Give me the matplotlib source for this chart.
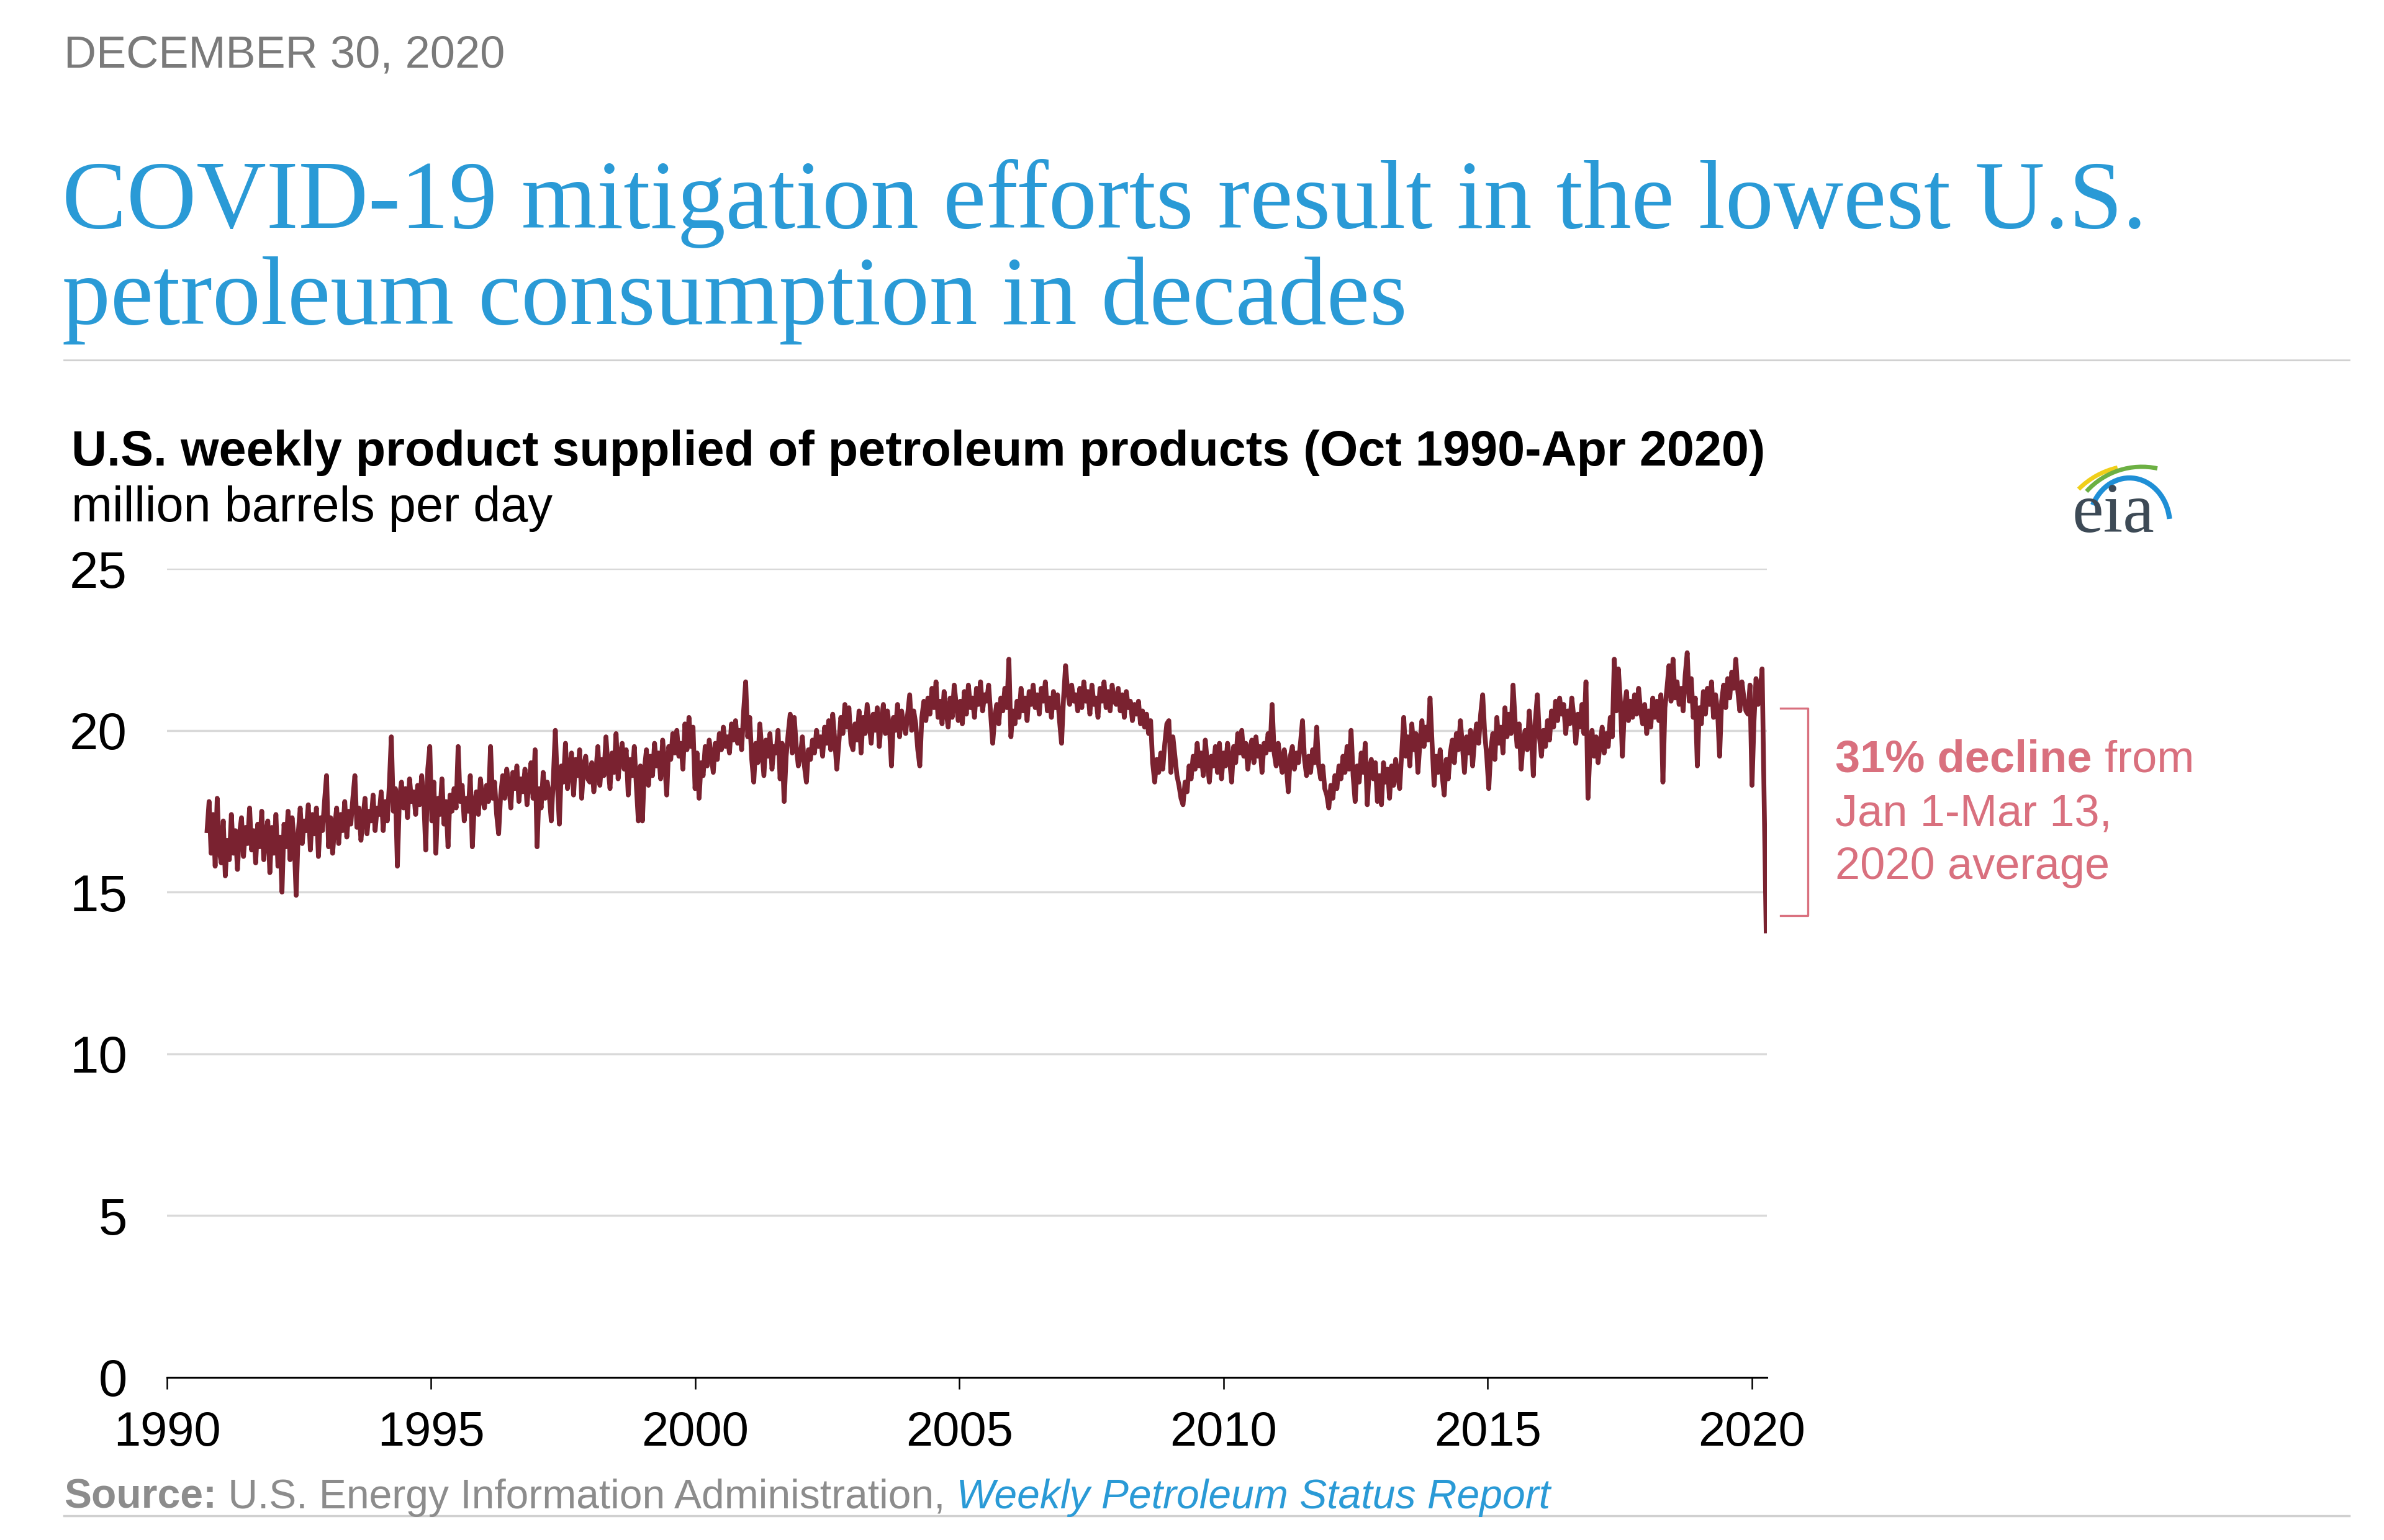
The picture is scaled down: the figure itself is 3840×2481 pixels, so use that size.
import numpy as np
import pandas as pd
import matplotlib
matplotlib.use('Agg')
import matplotlib.pyplot as plt
from matplotlib.transforms import IdentityTransform, blended_transform_factory
from matplotlib.lines import Line2D
from matplotlib.patches import Arc

# U.S. product supplied of petroleum products, million b/d
# (roughly every second week, last point = Apr 10, 2020)
supplied_1990s = [
    16.9, 17.8, 16.2, 17.4, 15.8, 17.9, 16.3,
    15.9, 17.2, 15.5, 16.6, 16.0, 17.4, 16.2, 16.9, 15.7, 16.8, 17.3, 16.1, 17.0,
    16.5, 17.6, 16.3, 16.9, 15.9, 17.1, 16.4, 17.5, 16.0, 16.8, 17.2, 15.6, 17.0,
    16.2, 17.4, 15.8, 16.7, 15.0, 17.1, 16.4, 17.5, 16.0, 17.3, 16.6, 14.9, 16.8,
    17.6, 16.5, 17.2, 16.9, 17.7, 16.3, 17.4, 16.8, 17.6, 16.1, 17.3, 16.9, 17.8,
    18.6, 16.4, 17.3, 16.2, 17.0, 17.6, 16.5, 17.4, 16.9, 17.8, 16.7, 17.5, 17.1,
    17.9, 18.6, 17.0, 17.6, 16.6, 17.3, 17.9, 16.8, 17.5, 17.2, 18.0, 16.9, 17.6,
    17.4, 18.1, 16.9, 17.8, 17.2, 18.3, 19.8, 17.5, 18.2, 15.8, 17.9, 18.4, 17.6,
    18.2, 17.3, 18.5, 17.8, 18.1, 17.4, 18.3, 17.7, 18.6, 17.9, 16.3, 18.8, 19.5,
    17.2, 18.4, 16.2, 17.9, 17.4, 18.5, 17.1, 17.8, 16.4, 18.0, 17.5, 18.2, 17.6,
    19.5, 17.8, 18.3, 17.2, 17.9, 17.5, 18.6, 16.4, 17.7, 18.1, 17.4, 18.5, 17.9,
    17.6, 18.3, 17.8, 19.5, 17.9, 18.4, 17.4, 16.8, 18.0, 18.6, 17.9, 18.8, 18.3,
    17.6, 18.7, 18.2, 18.9, 17.8, 18.5, 18.1, 18.8, 17.7, 18.4, 19.0, 17.9, 19.4,
    16.4, 18.2, 17.6, 18.7, 17.9, 18.4, 18.0, 17.2, 18.5, 20.0, 18.3, 17.1, 18.9,
    18.4, 19.6, 18.2, 18.8, 19.3, 18.0, 19.1, 18.6, 19.4, 17.9, 18.9, 19.2, 18.5,
    18.4, 19.0, 18.1, 18.7, 19.5, 18.3, 19.1, 18.6, 19.8, 18.9, 18.2, 19.3, 18.7,
    19.9, 18.5, 19.2, 19.6, 18.8, 19.4, 18.0, 19.1, 18.6, 19.5, 18.3, 17.2, 18.9,
    17.2, 18.8, 19.4, 18.3, 19.2, 18.6, 19.6, 18.9, 19.3, 18.5, 19.7, 19.0, 18.0,
    19.5, 19.1, 19.9, 19.3, 20.0, 19.2, 19.6, 18.8, 20.2, 19.4, 20.4, 19.5, 20.1,
]
supplied_2000s = [
    18.2, 19.3, 17.9, 19.0, 18.6, 19.5, 18.9, 19.7, 19.2, 18.7, 19.6, 19.1, 19.9,
    19.4, 20.1, 19.5, 19.8, 19.3, 20.2, 19.7, 20.3, 19.6, 20.0, 19.4, 20.6, 21.5,
    19.8, 20.4, 19.1, 18.4, 19.6, 19.0, 20.2, 19.4, 18.6, 19.7, 19.2, 19.9, 18.8,
    19.5, 19.3, 20.0, 18.5, 19.6, 17.8, 19.2, 19.9, 20.5, 19.3, 20.4, 19.5, 18.9,
    19.2, 19.8, 18.9, 18.4, 19.4, 19.1, 19.7, 19.3, 20.0, 19.5, 19.8, 19.2, 20.1,
    19.6, 20.3, 19.4, 20.5, 19.7, 18.8, 19.6, 20.4, 19.9, 20.8, 20.1, 20.7, 19.6,
    19.4, 20.2, 19.7, 20.6, 19.3, 20.4, 19.9, 20.8, 20.2, 19.6, 20.5, 20.0, 20.7,
    19.5, 20.3, 20.8, 19.9, 20.6, 20.1, 18.9, 20.4, 20.0, 20.8, 19.8, 20.6, 20.2,
    19.9, 20.5, 21.1, 20.0, 20.6, 20.2, 19.4, 18.9, 20.4, 20.9, 20.3, 21.0, 20.5,
    21.3, 20.7, 21.5, 20.4, 20.9, 20.2, 21.2, 20.6, 20.1, 21.0, 20.4, 21.4, 20.8,
    20.3, 20.9, 20.2, 21.2, 20.5, 21.4, 20.7, 21.0, 20.4, 21.3, 20.8, 21.5, 20.6,
    21.1, 20.9, 21.4, 20.5, 19.6, 20.4, 20.8, 20.2, 21.0, 20.6, 21.3, 20.7, 22.2,
    19.8, 20.6, 20.2, 20.9, 20.4, 21.3, 20.6, 21.0, 20.3, 21.2, 20.8, 21.4, 20.7,
    21.1, 20.5, 21.3, 20.9, 21.5, 20.6, 21.0, 20.4, 21.2, 20.7, 21.1, 20.3, 19.6,
    21.0, 22.0, 21.2, 20.8, 21.4, 20.9, 21.1, 20.6, 21.3, 20.7, 21.5, 20.9, 21.2,
    20.5, 21.4, 20.8, 21.0, 20.4, 21.3, 20.9, 21.5, 20.7, 21.2, 20.6, 21.4, 20.9,
    20.8, 21.3, 20.6, 21.1, 20.4, 21.2, 20.7, 20.9, 20.3, 20.8, 20.5, 20.9, 20.2,
    20.6, 20.1, 20.5, 19.9, 20.3, 19.0, 18.4, 19.1, 18.7, 19.3, 18.8, 19.6, 20.2,
    20.3, 18.7, 19.8, 19.2, 18.6, 18.3, 17.9, 17.7, 18.4, 18.1, 18.9, 18.5, 19.2,
    18.8, 19.6, 18.9, 19.3, 18.6, 19.7, 19.0, 18.4, 19.2, 18.9, 19.5, 18.7, 19.6,
]
supplied_2010s = [
    18.5, 19.3, 18.9, 19.6, 19.1, 18.4, 19.5, 19.0, 19.9, 19.3, 20.0, 19.2, 19.6,
    18.8, 19.4, 19.7, 19.0, 19.8, 19.2, 19.5, 18.7, 19.6, 19.3, 19.9, 19.4, 20.8,
    19.3, 18.9, 19.6, 19.1, 18.7, 19.4, 18.9, 18.1, 19.2, 19.5, 18.8, 19.3, 19.0,
    19.6, 20.3, 19.1, 18.6, 19.2, 18.7, 19.4, 19.0, 20.1, 18.9, 18.5, 18.9, 18.2,
    18.0, 17.6, 18.3, 17.9, 18.6, 18.2, 18.9, 18.5, 19.2, 18.7, 19.5, 18.8, 20.0,
    18.6, 17.8, 18.9, 18.4, 19.3, 18.7, 19.6, 17.7, 18.8, 19.1, 18.5, 19.0, 17.8,
    18.6, 17.7, 19.0, 18.4, 18.8, 17.9, 18.9, 18.3, 19.1, 18.6, 18.2, 19.3, 20.4,
    19.2, 19.8, 18.9, 20.2, 19.4, 19.9, 18.7, 19.6, 20.3, 19.5, 20.1, 19.7, 21.0,
    19.6, 18.3, 19.2, 18.7, 19.4, 18.6, 18.0, 19.1, 18.5, 19.3, 19.7, 19.0, 19.9,
    19.4, 20.3, 19.5, 18.7, 19.8, 19.3, 20.0, 18.9, 19.7, 20.2, 19.6, 20.5, 21.1,
    19.9, 19.2, 18.2, 19.4, 19.9, 19.1, 20.4, 19.6, 20.1, 19.3, 20.7, 19.8, 20.5,
    19.9, 21.4, 20.3, 19.5, 20.2, 18.8, 19.7, 20.0, 19.4, 20.6, 19.8, 18.6, 20.3,
    21.1, 19.8, 19.2, 20.0, 19.5, 20.3, 19.7, 20.6, 20.1, 20.9, 20.3, 21.0, 20.5,
    20.8, 19.9, 20.6, 20.2, 21.0, 20.4, 19.6, 20.5, 20.1, 20.8, 19.9, 21.5, 17.9,
    19.4, 20.0, 19.2, 19.8, 19.0, 19.6, 20.1, 19.3, 19.9, 19.5, 20.4, 19.8, 22.2,
    20.6, 21.9, 20.9, 19.2, 20.7, 21.2, 20.3, 20.9, 20.4, 21.1, 20.5, 21.3, 20.6,
    20.2, 20.8, 19.9, 20.6, 20.1, 21.0, 20.4, 20.9, 20.3, 21.1, 18.4, 20.7, 21.3,
    22.0, 20.9, 22.2, 21.0, 21.5, 20.8, 21.3, 20.6, 21.7, 22.4, 20.9, 21.6, 20.4,
    21.0, 18.9, 20.7, 20.2, 21.2, 20.5, 21.3, 20.8, 21.5, 20.4, 21.1, 20.6, 19.2,
    20.9, 21.4, 20.7, 21.6, 21.0, 21.8, 21.3, 22.2, 21.2, 20.6, 21.5, 21.0, 20.6,
]
supplied_2020 = [20.5, 21.4, 18.3, 20.3, 21.6, 20.8, 21.2, 21.9, 17.9, 13.8]

supplied = supplied_1990s + supplied_2000s + supplied_2010s + supplied_2020
dates = pd.date_range(end='2020-04-10', periods=len(supplied), freq='14D')

year_ticks = [1990, 1995, 2000, 2005, 2010, 2015, 2020]
y_ticks = [0, 5, 10, 15, 20, 25]

W, H = 3840, 2481
plt.rcParams['font.family'] = ['Liberation Sans', 'DejaVu Sans']
fig = plt.figure(figsize=(W / 100, H / 100), dpi=100)
fig.patch.set_facecolor('white')
px = IdentityTransform()
rend = fig.canvas.get_renderer()


def P(x, y):
    # pixel position measured from the top-left corner
    return x, H - y


def put(x, y, s, **kw):
    return fig.text(*P(x, y), s, transform=px, va='baseline', **kw)


def run(x, y, parts, size):
    for s, kw in parts:
        t = put(x, y, s, fontsize=size, **kw)
        x = t.get_window_extent(renderer=rend).x1


ax = fig.add_axes([269 / W, 1 - 2219 / H, (2846 - 269) / W, (2219 - 916) / H])
ax.plot(dates, supplied, color='#7a2230', lw=5.5)
ax.set_ylim(0, 25)
ax.set_xlim(pd.Timestamp('1990-01-01'), pd.Timestamp('2020-04-15'))
ax.set_yticks(y_ticks)
ax.set_xticks([pd.Timestamp(f'{y}-01-01') for y in year_ticks])
ax.set_xticklabels([str(y) for y in year_ticks])
ax.grid(axis='y', color='#d9d9d9', lw=2.5)
ax.set_axisbelow(True)
for s in ['top', 'right', 'left']:
    ax.spines[s].set_visible(False)
ax.spines['bottom'].set_linewidth(2.2)
ax.tick_params(axis='x', length=14, width=1.8, pad=24, labelsize=56)
ax.tick_params(axis='y', length=0, pad=46, labelsize=60)

# bracket: Jan 1 - Mar 13 2020 average down to the April low
jan_mar = [v for d, v in zip(dates, supplied) if pd.Timestamp('2020-01-01') <= d <= pd.Timestamp('2020-03-13')]
avg = np.mean(jan_mar)
low = avg * (1 - 0.31)
pink = '#d9707e'
tr = blended_transform_factory(ax.transAxes, ax.transData)
ax.plot([1.0085, 1.0256, 1.0256, 1.0085], [avg, avg, low, low], color=pink, lw=2.4,
        transform=tr, clip_on=False)

# header
put(103, 108, 'DECEMBER 30, 2020', fontsize=52, color='#7a7a7a')
title_1 = 'COVID-19 mitigation efforts result in the lowest U.S.'
t1 = put(100, 367, title_1, fontsize=100, color='#2a9ad6', family='Liberation Serif')
tsize = 100 * (3458 - 100) / t1.get_window_extent(renderer=rend).width
t1.set_fontsize(tsize)
put(100, 522, 'petroleum consumption in decades', fontsize=tsize, color='#2a9ad6',
    family='Liberation Serif')
fig.add_artist(Line2D([103, 3784], [H - 580, H - 580], transform=px, color='#d0d0d0', lw=2))

put(115, 750, 'U.S. weekly product supplied of petroleum products (Oct 1990-Apr 2020)',
    fontsize=57, fontweight='bold', color='black')
put(115, 840, 'million barrels per day', fontsize=57, color='black')

# annotation
run(2956, 1244, [('31% decline', dict(fontweight='bold', color=pink)),
                 (' from', dict(color=pink))], 52)
put(2956, 1330, 'Jan 1-Mar 13,', fontsize=52, color=pink)
put(2956, 1416, '2020 average', fontsize=52, color=pink)

# source
run(103, 2430, [('Source:', dict(fontweight='bold', color='#8c8c8c')),
                (' U.S. Energy Information Administration,', dict(color='#8c8c8c')),
                (' Weekly Petroleum Status Report', dict(color='#2a9ad6', style='italic'))], 47.5)
fig.add_artist(Line2D([103, 3784], [H - 2442, H - 2442], transform=px, color='#d0d0d0', lw=2.5))

# eia logo
put(3338, 857, 'eia', fontsize=82, color='#3d4a56', family='Liberation Serif')
fig.add_artist(Arc(P(3440, 880), 260, 260, theta1=103, theta2=135, transform=px,
                   color='#f0cf1a', lw=5))
fig.add_artist(Arc(P(3450, 872), 240, 240, theta1=78, theta2=138, transform=px,
                   color='#6cb043', lw=5))
fig.add_artist(Arc(P(3430, 845), 130, 150, theta1=8, theta2=152, transform=px,
                   color='#1f8fd6', lw=6))

fig.savefig('out.png', dpi=100, facecolor='white')
